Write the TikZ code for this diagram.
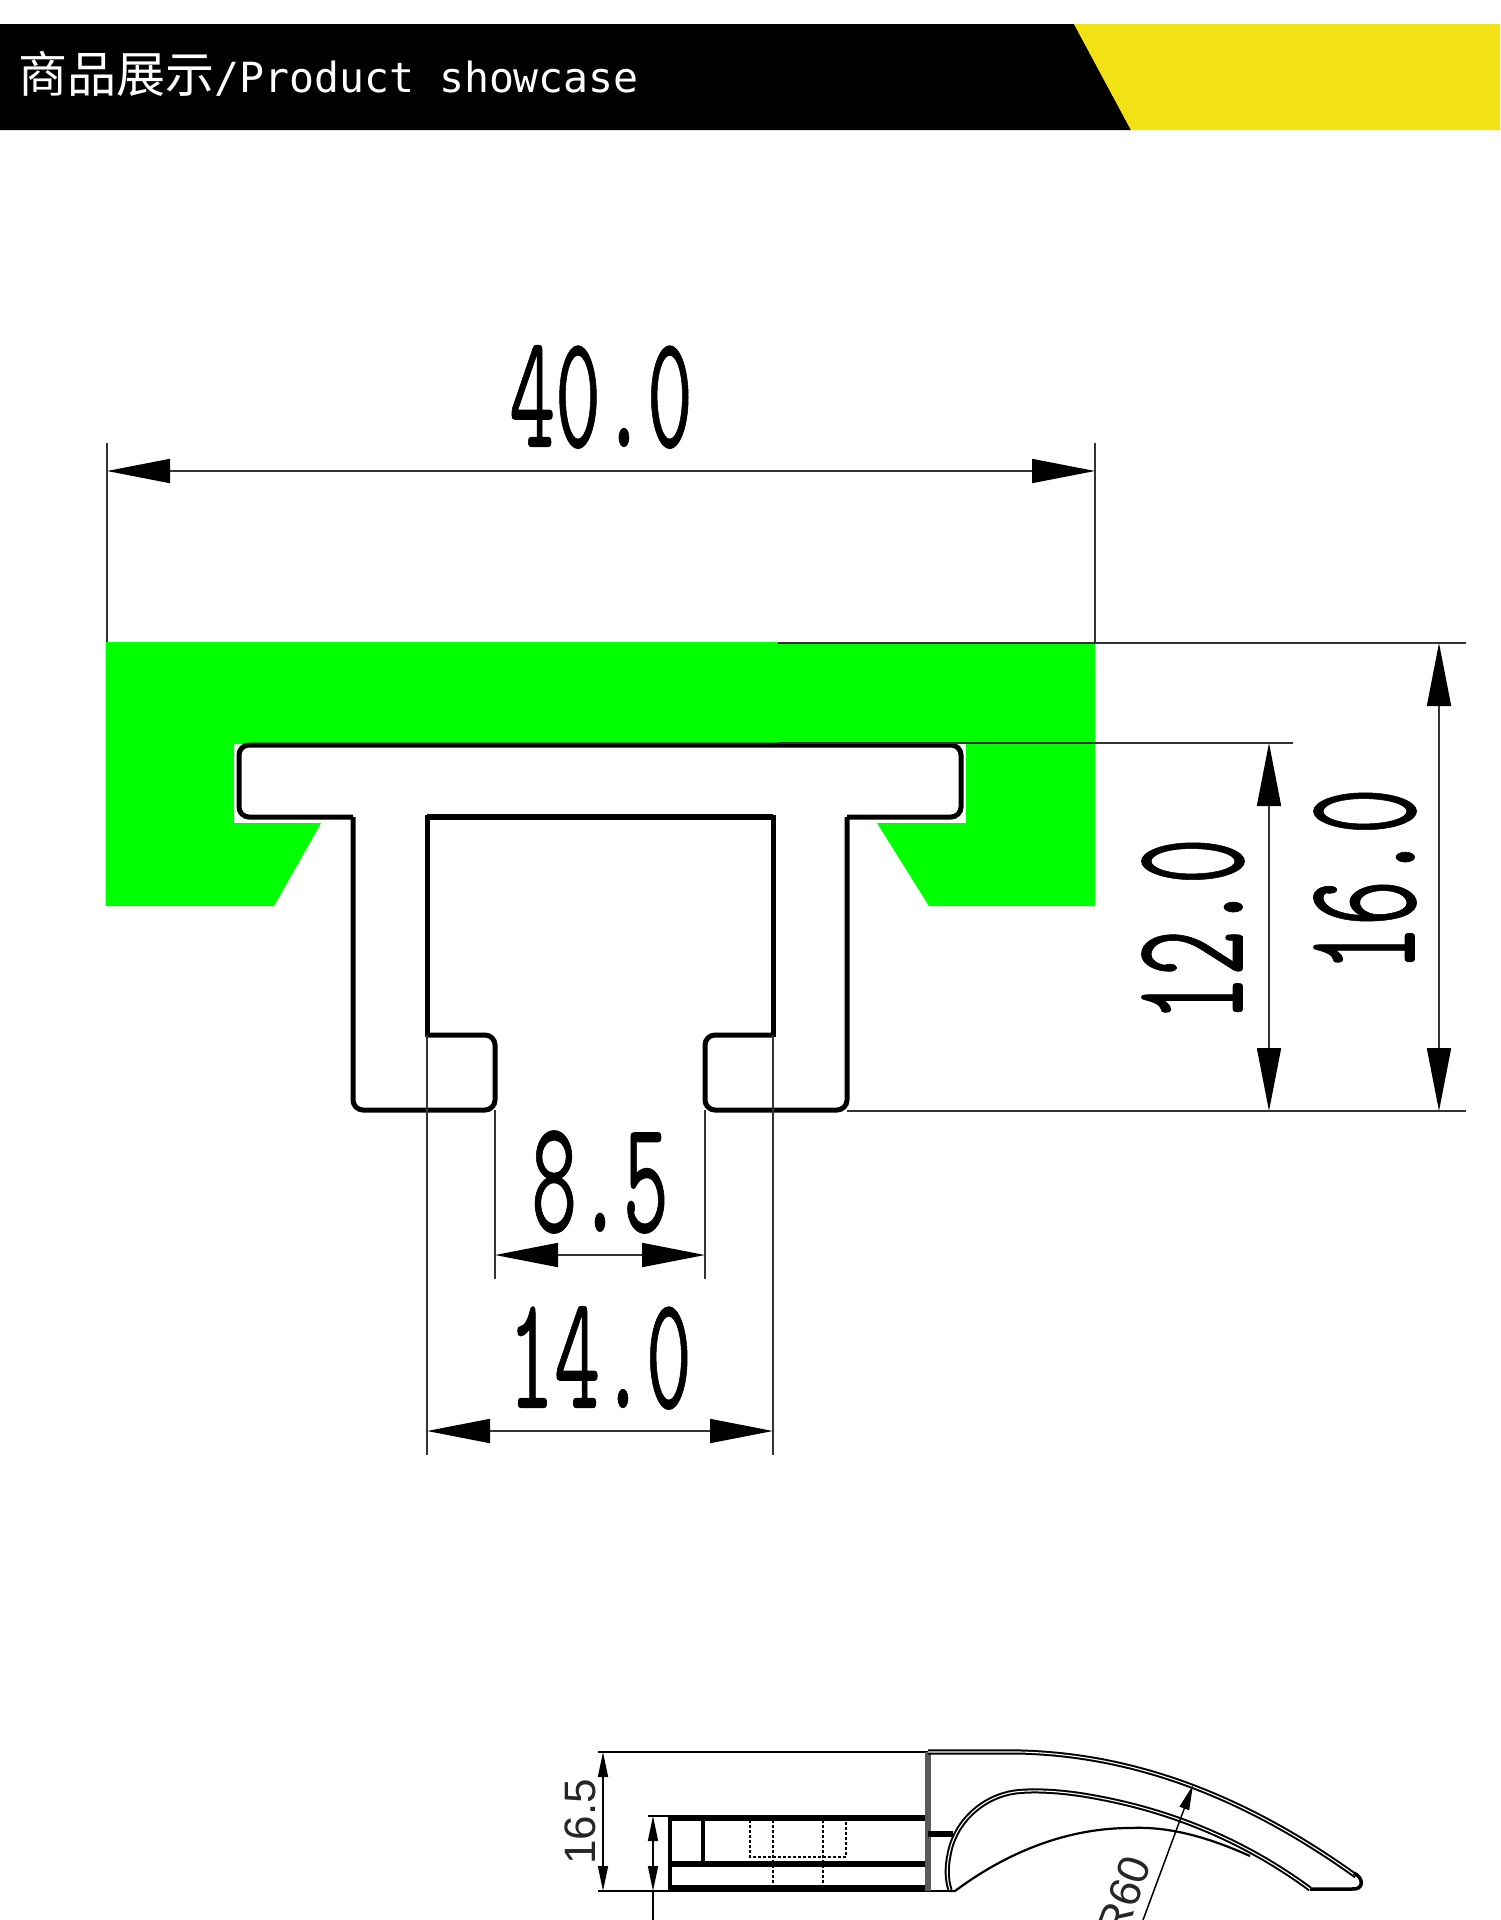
\documentclass[tikz,border=0pt]{standalone}
\usepackage{fontspec}
\usepackage{graphicx}
\usetikzlibrary{arrows.meta}
\newfontfamily\bannercjk{Noto Sans CJK SC}
\newfontfamily\bannerlatin{DejaVu Sans Mono}
\newfontfamily\dimfont[FakeBold=0.6]{Latin Modern Mono}
\setsansfont{Liberation Sans}
\definecolor{bannerYellow}{HTML}{F2E114}
\definecolor{profileGreen}{HTML}{00FF00}
\definecolor{dimGrey}{HTML}{333333}
\newcommand{\dimnum}[1]{\scalebox{0.55}[1]{\fontsize{162}{162}\dimfont #1}}
\begin{document}
\begin{tikzpicture}[x=1pt,y=-1pt]
    \tikzstyle{dim line}=[dimGrey, line width=1.8pt, {Triangle[length=63pt,width=24pt,color=black]}-{Triangle[length=63pt,width=24pt,color=black]}];
    \tikzstyle{small dim line}=[black, line width=1.5pt, {Triangle[length=25pt,width=10pt]}-{Triangle[length=25pt,width=10pt]}];
    \tikzstyle{witness}=[dimGrey, line width=1.6pt];
    \tikzstyle{dim label}=[inner sep=0pt, text=black];
    \tikzstyle{sketch label}=[inner sep=0pt, text=black!85, font=\sffamily\fontsize{44}{44}\selectfont];
    \tikzstyle{outline}=[black, line width=5pt, rounded corners=10pt];
    \tikzstyle{sketch}=[black, line width=2.2pt];
    \tikzstyle{band}=[black, line width=5.5pt];
    \tikzstyle{twin}=[black, line width=2pt, double=white, double distance=1.1pt];
    \tikzstyle{hidden}=[black, line width=2.2pt, dash pattern=on 3pt off 2pt];

    \path[use as bounding box] (0,0) rectangle (1500,1920);
    \clip (0,0) rectangle (1500,1920);
    \fill[white] (0,0) rectangle (1500,1920);

    % banner
    \fill[black] (0,24) -- (1074,24) -- (1131,130) -- (0,130) -- cycle;
    \fill[bannerYellow] (1074,24) -- (1500,24) -- (1500,130) -- (1131,130) -- cycle;
    \node[inner sep=0pt, anchor=base west, text=white] (title) at (18,92)
        {{\bannercjk\fontsize{49}{49}\selectfont 商品展示}{\bannerlatin\fontsize{41.5}{41.5}\selectfont /Product showcase}};

    % green part
    \fill[profileGreen] (105.5,642) -- (1095,642) -- (1095,906) -- (929,906) -- (877,823) -- (966,823)
        -- (966,744) -- (234,744) -- (234,823) -- (321,823) -- (274,906) -- (105.5,906) -- cycle;

    % profile
    \fill[white] (239,745) rectangle (961,816);
    \draw[outline] (353,817) -- (239,817) -- (239,745) -- (961,745) -- (961,817) -- (847,817);
    \draw[outline] (353,817) -- (353,1110) -- (495,1110) -- (495,1035) -- (427,1035);
    \draw[black, line width=5pt] (427,1037) -- (427,817) -- (773,817) -- (773,1037);
    \draw[black, line width=6.5pt] (427,817) -- (773,817);
    \draw[outline] (773,1035) -- (705,1035) -- (705,1110) -- (847,1110) -- (847,817);

    % extension lines
    \coordinate (wideL) at (107,471);
    \coordinate (wideR) at (1095,471);
    \draw[witness] (107,443) -- (107,642);
    \draw[witness] (1095,443) -- (1095,642);
    \draw[witness] (778,643) -- (1466,643);
    \draw[witness] (778,743) -- (1293,743);
    \draw[witness] (847,1111) -- (1466,1111);
    \draw[witness] (495,1110) -- (495,1279);
    \draw[witness] (705,1110) -- (705,1279);
    \draw[witness] (427,1035) -- (427,1455);
    \draw[witness] (773,1035) -- (773,1455);

    % dimensions
    \coordinate (slotL) at (495,1255);
    \coordinate (slotR) at (705,1255);
    \coordinate (neckL) at (427,1431);
    \coordinate (neckR) at (773,1431);
    \coordinate (midT) at (1269,743);
    \coordinate (midB) at (1269,1111);
    \coordinate (fullT) at (1439,643);
    \coordinate (fullB) at (1439,1111);
    \draw[dim line] (wideL) -- (wideR);
    \draw[dim line] (slotL) -- (slotR);
    \draw[dim line] (neckL) -- (neckR);
    \draw[dim line] (midT) -- (midB);
    \draw[dim line] (fullT) -- (fullB);

    \node[dim label] (lab40) at (601,397) {\dimnum{40.0}};
    \node[dim label] (lab85) at (600,1182) {\dimnum{8.5}};
    \node[dim label] (lab14) at (600,1358) {\dimnum{14.0}};
    \node[dim label, rotate=90] (lab12) at (1193,930) {\dimnum{12.0}};
    \node[dim label, rotate=90] (lab16) at (1365,880) {\dimnum{16.0}};

    % handle, side view
    \draw[sketch] (598,1752) -- (928,1752);
    \draw[sketch] (598,1891) -- (955,1891);
    \draw[sketch] (648,1816) -- (670,1816);
    \draw[line width=3.5pt, black] (670,1816) -- (670,1891);
    \draw[line width=3.5pt, black] (703,1818) -- (703,1865);
    \draw[band] (670,1818) -- (925,1818);
    \draw[band] (670,1864) -- (925,1864);
    \draw[band, line width=6.5pt] (670,1888) -- (925,1888);
    \draw[black!65, line width=6pt] (928,1752) -- (928,1891);
    \draw[band] (928,1834) -- (953,1834);

    \draw[hidden] (750,1820) -- (750,1857) -- (846,1857) -- (846,1820);
    \draw[hidden] (773,1820) -- (773,1888);
    \draw[hidden] (823,1820) -- (823,1888);

    \draw[twin] (928,1752) -- (1020,1752) .. controls (1140,1755) and (1250,1800) .. (1356,1876);
    \draw[black, line width=3.5pt] (1354,1873) .. controls (1364,1878) and (1364,1890) .. (1352,1889) -- (1310,1889);
    \draw[twin] (1310,1889) .. controls (1260,1852) and (1190,1815) .. (1100,1798) .. controls (1060,1790) and (1030,1790) .. (1015,1792)
        .. controls (985,1796) and (955,1820) .. (949,1855) .. controls (946,1870) and (947,1880) .. (950,1890);
    \draw[sketch] (950,1891) -- (955,1891) .. controls (1010,1850) and (1070,1828) .. (1130,1828)
        .. controls (1170,1826) and (1210,1838) .. (1250,1856);

    \coordinate (heightT) at (603,1752);
    \coordinate (heightB) at (603,1891);
    \coordinate (slotT) at (653,1816);
    \coordinate (slotB) at (653,1891);
    \coordinate (slotEnd) at (653,1920);
    \coordinate (radTip) at (1193,1785);
    \coordinate (radEnd) at (1143,1920);
    \draw[small dim line] (heightT) -- (heightB);
    \draw[small dim line] (slotT) -- (slotB);
    \draw[black, line width=1.5pt] (slotB) -- (slotEnd);
    \draw[black, line width=1.5pt, {Triangle[length=25pt,width=10pt]}-] (radTip) -- (radEnd);

    \node[sketch label, rotate=90] (lab165) at (580,1822) {16.5};
    \node[sketch label, rotate=70] (labR) at (1124,1896) {R60};
\end{tikzpicture}
\end{document}
